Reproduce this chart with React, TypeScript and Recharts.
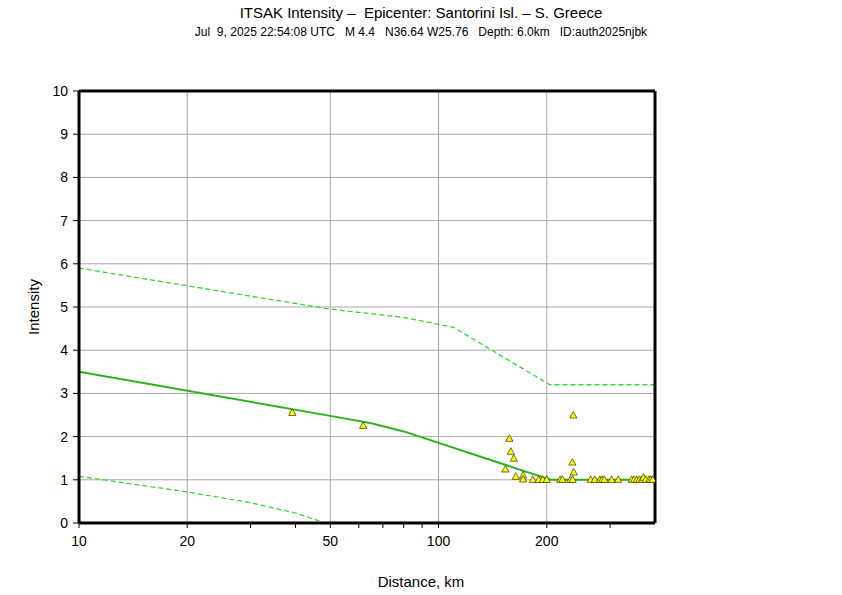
import React from 'react';
import { ComposedChart, Line, Scatter, XAxis, YAxis, CartesianGrid, ReferenceLine } from 'recharts';

const medianDist = [10, 50, 65, 80, 205, 400];
const medianInt = [3.5, 2.48, 2.31, 2.12, 1.0, 1.0];
const upperDist = [10, 50, 80, 110, 204, 400];
const upperInt = [5.9, 4.95, 4.76, 4.53, 3.2, 3.2];
const lowerDist = [10, 20, 30, 40, 48.5];
const lowerInt = [1.08, 0.72, 0.47, 0.23, 0];
const stationDist = [39.2, 61.7, 153.5, 157.4, 158.9, 161.9, 164, 171.9, 171.9, 182.8, 190, 195, 200, 218, 221, 232.6, 235.6, 236, 237, 237.7, 265, 272, 281, 285, 289, 303, 316, 344.6, 349.8, 355.9, 361.9, 367.5, 371.3, 377, 385, 389.2, 394.2];
const stationInt = [2.55, 2.25, 1.24, 1.95, 1.65, 1.49, 1.07, 1.1, 1.01, 1.0, 1.0, 1.0, 1.0, 1.0, 1.0, 1.0, 1.4, 1.0, 2.49, 1.17, 1.0, 1.0, 1.0, 1.0, 1.0, 1.0, 1.0, 1.0, 1.0, 1.0, 1.0, 1.0, 1.05, 1.0, 1.0, 1.0, 1.0];
const xMajorTicks = [10, 20, 50, 100, 200];
const xGridTicks = [20, 50, 100, 200];
const xAllTicks = [10, 20, 30, 40, 50, 60, 70, 80, 90, 100, 200, 300];
const yTicks = [0, 1, 2, 3, 4, 5, 6, 7, 8, 9, 10];
const xDomain = [10, 400];
const yDomain = [0, 10];

const title = 'ITSAK Intensity –  Epicenter: Santorini Isl. – S. Greece';
const subtitle = 'Jul  9, 2025 22:54:08 UTC   M 4.4   N36.64 W25.76   Depth: 6.0km   ID:auth2025njbk';
const xLabel = 'Distance, km';
const yLabel = 'Intensity';

const zip = (d: number[], v: number[]) => d.map((x, i) => ({ d: x, v: v[i] }));
const median = zip(medianDist, medianInt);
const upper = zip(upperDist, upperInt);
const lower = zip(lowerDist, lowerInt);
const stations = zip(stationDist, stationInt);

const FONT = '"Liberation Sans", Arial, Helvetica, sans-serif';

const Triangle = (props: any) => {
  const { cx, cy } = props;
  if (cx == null || cy == null) return null;
  return (
    <polygon
      points={`${cx},${cy - 4} ${cx - 3.6},${cy + 2.6} ${cx + 3.6},${cy + 2.6}`}
      fill="#ffff00"
      stroke="#333300"
      strokeWidth={0.7}
    />
  );
};

export default function App() {
  return (
    <div style={{ position: 'absolute', left: 0, top: 0, width: 842, height: 595, background: '#fff', fontFamily: FONT }}>
      <div style={{ position: 'absolute', left: 0, width: 842, top: 4, textAlign: 'center', fontSize: 15, whiteSpace: 'pre', color: '#000' }}>{title}</div>
      <div style={{ position: 'absolute', left: 0, width: 842, top: 25, textAlign: 'center', fontSize: 12, whiteSpace: 'pre', color: '#000' }}>{subtitle}</div>
      <div style={{ position: 'absolute', left: 0, width: 842, top: 573, textAlign: 'center', fontSize: 15, color: '#000' }}>{xLabel}</div>
      <div style={{ position: 'absolute', left: 33, top: 307, transform: 'translate(-50%, -50%) rotate(-90deg)', fontSize: 15, color: '#000', whiteSpace: 'nowrap' }}>{yLabel}</div>
      <ComposedChart
        width={842}
        height={595}
        margin={{ top: 91, right: 177, bottom: 42, left: 34 }}
        style={{ position: 'absolute', left: 0, top: 0 }}
      >
        <CartesianGrid stroke="#a8a8a8" strokeWidth={1} vertical={false} />
        {xGridTicks.map((t) => (
          <ReferenceLine key={t} x={t} stroke="#a8a8a8" strokeWidth={1} />
        ))}
        <XAxis
          dataKey="d"
          type="number"
          scale="log"
          domain={xDomain}
          ticks={xAllTicks}
          interval={0}
          allowDataOverflow
          height={30}
          tickSize={5}
          tickMargin={8}
          tickFormatter={(v: number) => (xMajorTicks.includes(v) ? String(v) : '')}
          tick={{ fill: '#000', fontSize: 14, fontFamily: FONT }}
          tickLine={{ stroke: '#000' }}
          axisLine={{ stroke: '#000', strokeWidth: 3 }}
        />
        <YAxis
          dataKey="v"
          type="number"
          domain={yDomain}
          ticks={yTicks}
          interval={0}
          allowDataOverflow
          width={45}
          tickSize={6}
          tickMargin={5}
          tick={{ fill: '#000', fontSize: 14, fontFamily: FONT }}
          tickLine={{ stroke: '#000' }}
          axisLine={{ stroke: '#000', strokeWidth: 3 }}
        />
        <YAxis
          yAxisId="r"
          orientation="right"
          type="number"
          domain={yDomain}
          ticks={yTicks}
          interval={0}
          width={10}
          tickSize={5}
          tick={false}
          tickLine={{ stroke: '#a8a8a8' }}
          axisLine={{ stroke: '#000', strokeWidth: 3 }}
        />
        <ReferenceLine y={10} stroke="#000" strokeWidth={3} />
        <Line data={upper} dataKey="v" type="linear" stroke="#2fdc2f" strokeWidth={1.3} strokeDasharray="5 3" dot={false} isAnimationActive={false} />
        <Line data={lower} dataKey="v" type="linear" stroke="#2fdc2f" strokeWidth={1.3} strokeDasharray="5 3" dot={false} isAnimationActive={false} />
        <Line data={median} dataKey="v" type="linear" stroke="#2cb21c" strokeWidth={2} dot={false} isAnimationActive={false} />
        <Scatter data={stations} dataKey="v" shape={<Triangle />} isAnimationActive={false} />
      </ComposedChart>
    </div>
  );
}
